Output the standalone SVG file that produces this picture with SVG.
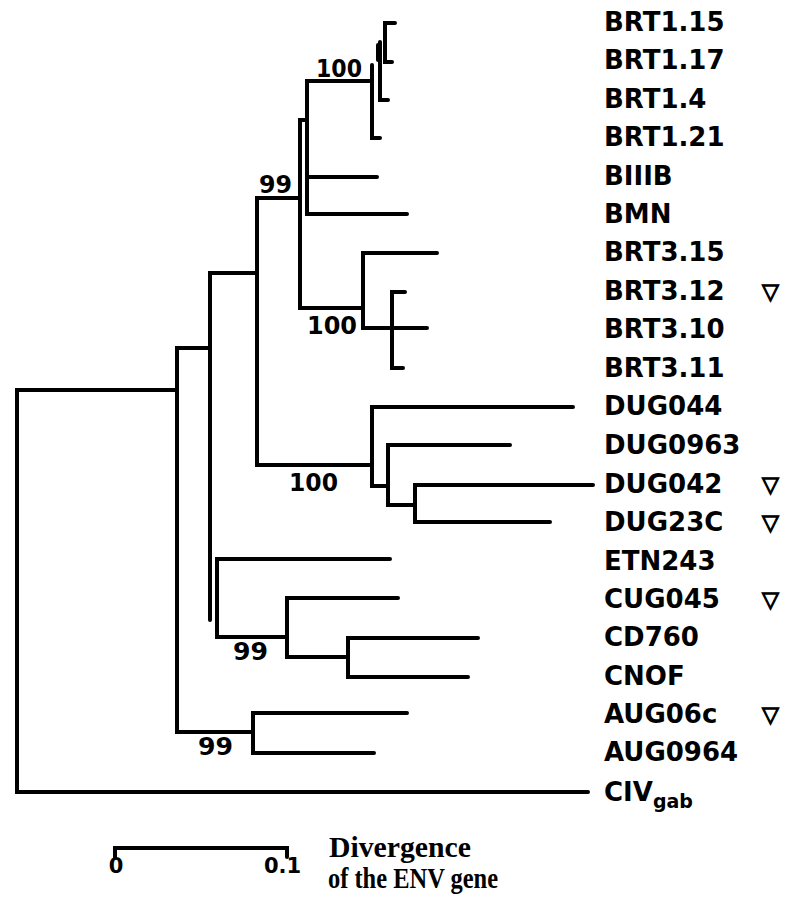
<svg xmlns="http://www.w3.org/2000/svg" width="788" height="898" viewBox="0 0 788 898">
<style>
.br{fill:none;stroke:#000;stroke-width:4;stroke-linecap:round;stroke-linejoin:miter}
.lb{font-family:"DejaVu Sans","Liberation Sans",sans-serif;font-weight:bold;font-size:26px;fill:#000}
.bs{font-family:"DejaVu Sans","Liberation Sans",sans-serif;font-weight:bold;font-size:24px;fill:#000}
.sc{font-family:"DejaVu Sans","Liberation Sans",sans-serif;font-weight:bold;font-size:21px;fill:#000}
.mk{font-family:"DejaVu Sans",sans-serif;font-weight:bold;font-size:22px;fill:#000;stroke:#000;stroke-width:1.2}
.cap{font-family:"Liberation Serif","Times New Roman",serif;font-weight:bold;font-size:30px;fill:#000}
</style>
<rect width="788" height="898" fill="#fff"/>
<g id="connectors">
  <path class="br" d="M177 390 H17 V792 H588"/>
  <path class="br" d="M210 348 H177 V732 H253"/>
  <path class="br" d="M407 713 H253 V753 H374"/>
  <path class="br" d="M257 273 H210 V620"/>
  <path class="br" d="M390 559 H217 V637 H287"/>
  <path class="br" d="M398 598 H287 V657 H348"/>
  <path class="br" d="M478 638 H348 V677 H468"/>
  <path class="br" d="M300 198 H257 V465 H372"/>
  <path class="br" d="M573 407 H372 V486 H388"/>
  <path class="br" d="M510 445 H388 V505 H415"/>
  <path class="br" d="M593 485 H415 V522 H550"/>
  <path class="br" d="M307 120 H300 V308 H363"/>
  <path class="br" d="M372 81 H307 V214 H407"/>
  <path class="br" d="M307 177 H377"/>
  <path class="br" d="M437 253 H363 V328 H427"/>
  <path class="br" d="M405 292 H392 V368 H403"/>
  <path class="br" d="M372 65 V138 H380"/>
  <path class="br" d="M380 42 V100 H388"/>
  <path class="br" d="M395 23 H385 V62 H392"/>
  <path class="br" d="M378 45 V60" stroke-width="6"/>
</g>
<g id="support">
  <text class="bs" x="316" y="77" textLength="46" lengthAdjust="spacingAndGlyphs">100</text>
  <text class="bs" x="259" y="193" textLength="33" lengthAdjust="spacingAndGlyphs">99</text>
  <text class="bs" x="307" y="334" textLength="50" lengthAdjust="spacingAndGlyphs">100</text>
  <text class="bs" x="289" y="491" textLength="49" lengthAdjust="spacingAndGlyphs">100</text>
  <text class="bs" x="233" y="660" textLength="35" lengthAdjust="spacingAndGlyphs">99</text>
  <text class="bs" x="198" y="755" textLength="35" lengthAdjust="spacingAndGlyphs">99</text>
</g>
<g id="leaf-BRT1.15"><text class="lb" x="604" y="31">BRT1.15</text></g>
<g id="leaf-BRT1.17"><text class="lb" x="604" y="69">BRT1.17</text></g>
<g id="leaf-BRT1.4"><text class="lb" x="604" y="108">BRT1.4</text></g>
<g id="leaf-BRT1.21"><text class="lb" x="604" y="146">BRT1.21</text></g>
<g id="leaf-BIIIB"><text class="lb" x="604" y="185">BIIIB</text></g>
<g id="leaf-BMN"><text class="lb" x="604" y="223">BMN</text></g>
<g id="leaf-BRT3.15"><text class="lb" x="604" y="261">BRT3.15</text></g>
<g id="leaf-BRT3.12"><text class="lb" x="604" y="300">BRT3.12</text><text class="mk" x="762" y="299">▽</text></g>
<g id="leaf-BRT3.10"><text class="lb" x="604" y="338">BRT3.10</text></g>
<g id="leaf-BRT3.11"><text class="lb" x="604" y="377">BRT3.11</text></g>
<g id="leaf-DUG044"><text class="lb" x="604" y="415">DUG044</text></g>
<g id="leaf-DUG0963"><text class="lb" x="604" y="454">DUG0963</text></g>
<g id="leaf-DUG042"><text class="lb" x="604" y="493">DUG042</text><text class="mk" x="762" y="492">▽</text></g>
<g id="leaf-DUG23C"><text class="lb" x="604" y="531">DUG23C</text><text class="mk" x="762" y="530">▽</text></g>
<g id="leaf-ETN243"><text class="lb" x="604" y="570">ETN243</text></g>
<g id="leaf-CUG045"><text class="lb" x="604" y="608">CUG045</text><text class="mk" x="762" y="607">▽</text></g>
<g id="leaf-CD760"><text class="lb" x="604" y="646">CD760</text></g>
<g id="leaf-CNOF"><text class="lb" x="604" y="685">CNOF</text></g>
<g id="leaf-AUG06c"><text class="lb" x="604" y="723">AUG06c</text><text class="mk" x="762" y="722">▽</text></g>
<g id="leaf-AUG0964"><text class="lb" x="604" y="761">AUG0964</text></g>
<g id="leaf-CIVgab"><text class="lb" x="604" y="801">CIV<tspan font-size="19" dy="7">gab</tspan></text></g>
<g id="scale">
  <path class="br" d="M115 857 V848 H287 V857" stroke-width="3.5"/>
  <text class="sc" x="116" y="873" text-anchor="middle">0</text>
  <text class="sc" x="264" y="873">0.1</text>
  <text class="cap" x="329" y="857" textLength="142" lengthAdjust="spacingAndGlyphs">Divergence</text>
  <text class="cap" x="328" y="888" textLength="170" lengthAdjust="spacingAndGlyphs">of the ENV gene</text>
</g>
</svg>
